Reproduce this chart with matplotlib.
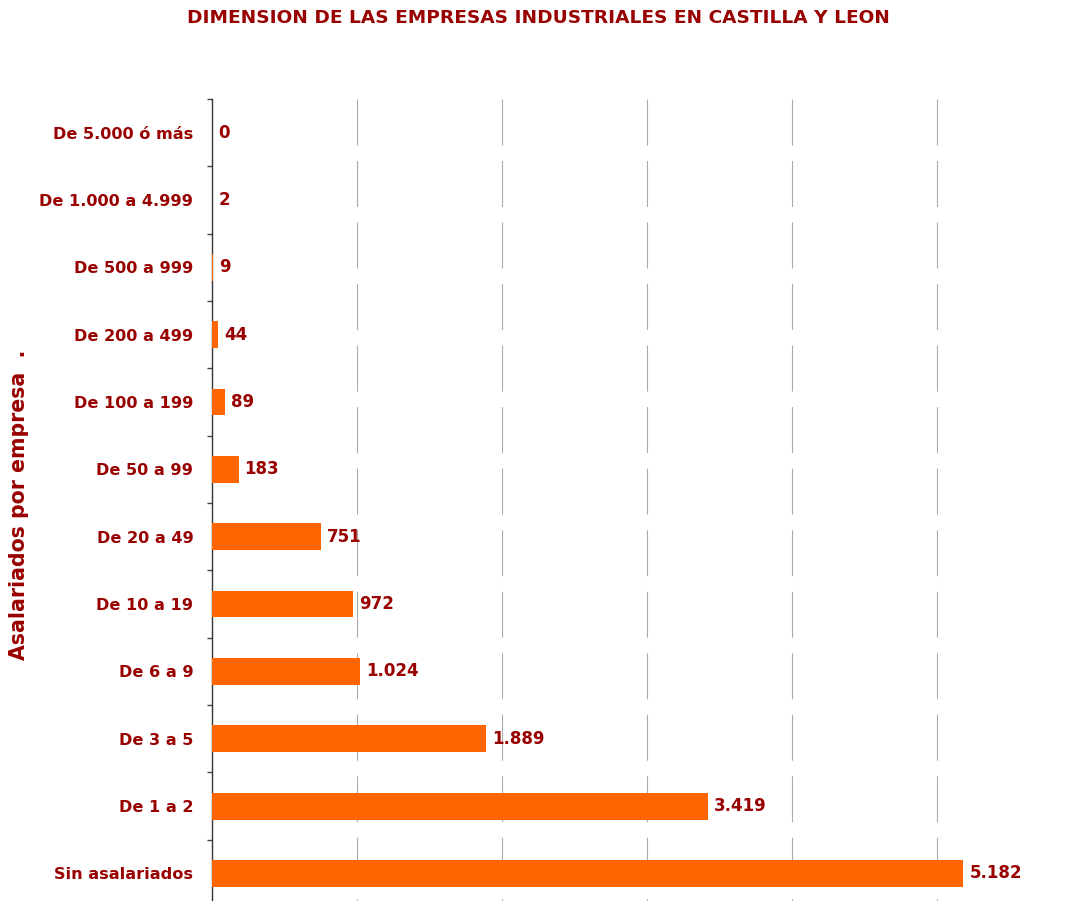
import matplotlib
matplotlib.use("Agg")
import matplotlib.pyplot as plt

# data, listed bottom to top as drawn
categories = ["Sin asalariados", "De 1 a 2", "De 3 a 5", "De 6 a 9", "De 10 a 19",
              "De 20 a 49", "De 50 a 99", "De 100 a 199", "De 200 a 499",
              "De 500 a 999", "De 1.000 a 4.999", "De 5.000 ó más"]
empresas = [5182, 3419, 1889, 1024, 972, 751, 183, 89, 44, 9, 2, 0]
grid_at = [1000, 2000, 3000, 4000, 5000]

dark_red = "#990000"
orange = "#FF6600"

def fmt(v):
    return f"{v:,}".replace(",", ".")

fig = plt.figure(figsize=(10.74, 9.01), dpi=100)
ax = fig.add_axes([0.1974, -0.0067, 0.81, 0.8968])

pos = list(range(len(categories)))
ax.barh(pos, empresas, height=0.4, color=orange, zorder=3)

for p, v in zip(pos, empresas):
    ax.annotate(fmt(v), (v, p), xytext=(4.3, 0), textcoords="offset points",
                va="center", ha="left", color=dark_red, fontsize=12, fontweight="bold")

for g in grid_at:
    ax.axvline(g, ymin=1, ymax=0, color="#aaaaaa", lw=0.8,
               linestyle=(0, (33.1 / 0.8, 11.2 / 0.8)), zorder=1)

ax.set_xlim(0, 6000)
ax.set_ylim(-0.5, len(categories) - 0.5)
ax.set_xticks([])
ax.set_yticks(pos)
ax.set_yticklabels(categories, color=dark_red, fontsize=11.6, fontweight="bold")
ax.tick_params(axis="y", which="major", length=0, pad=13.5)
ax.set_yticks([p + 0.5 for p in pos], minor=True)
ax.tick_params(axis="y", which="minor", length=3.5, width=1, color="#444444", direction="out")

for s in ["top", "right", "bottom"]:
    ax.spines[s].set_visible(False)
ax.spines["left"].set_color("#333333")
ax.spines["left"].set_linewidth(1)

fig.text(0.0177, 0.44, "Asalariados por empresa  .", rotation=90, ha="center", va="center",
         color=dark_red, fontsize=14.8, fontweight="bold")

fig.text(0.501, 0.98, "DIMENSION DE LAS EMPRESAS INDUSTRIALES EN CASTILLA Y LEON",
         ha="center", va="center", color=dark_red, fontsize=13.3, fontweight="bold")

fig.savefig("out.png", dpi=100)
